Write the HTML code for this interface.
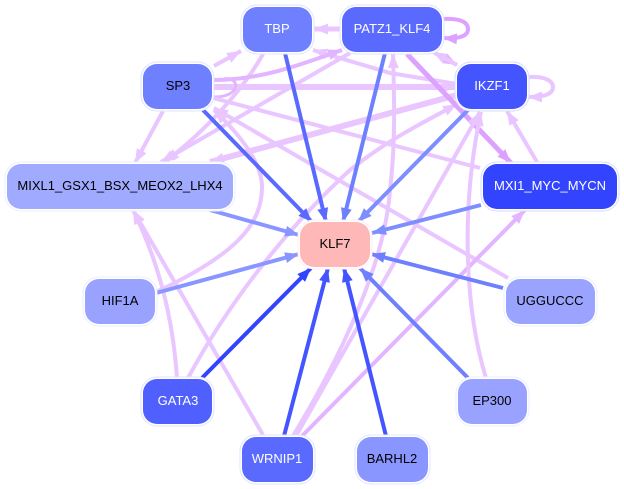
<!DOCTYPE html>
<html>
<head>
<meta charset="utf-8">
<style>
html,body{margin:0;padding:0;background:#fff;}
svg{display:block;}
text{font-family:"Liberation Sans",sans-serif;font-size:13px;text-anchor:middle;}
.l{fill:none;stroke:#e9c6ff;stroke-width:4;}
.m{fill:none;stroke:#e3b4ff;stroke-width:4;}
.d{fill:none;stroke:#dda2ff;stroke-width:4;}
.b{fill:none;stroke-width:4;}
</style>
</head>
<body>
<svg width="624" height="489" viewBox="0 0 624 489" xmlns="http://www.w3.org/2000/svg">
<defs>
<marker id="pl" markerUnits="userSpaceOnUse" markerWidth="15" markerHeight="12" refX="14" refY="5.5" orient="auto"><path d="M0 0L14 5.5L0 11Z" fill="#e9c6ff"/></marker>
<marker id="pm" markerUnits="userSpaceOnUse" markerWidth="15" markerHeight="12" refX="14" refY="5.5" orient="auto"><path d="M0 0L14 5.5L0 11Z" fill="#e3b4ff"/></marker>
<marker id="pd" markerUnits="userSpaceOnUse" markerWidth="15" markerHeight="12" refX="14" refY="5.5" orient="auto"><path d="M0 0L14 5.5L0 11Z" fill="#dda2ff"/></marker>
<marker id="b3" markerUnits="userSpaceOnUse" markerWidth="15" markerHeight="12" refX="14" refY="5.5" orient="auto"><path d="M0 0L14 5.5L0 11Z" fill="#3344ff"/></marker>
<marker id="b4" markerUnits="userSpaceOnUse" markerWidth="15" markerHeight="12" refX="14" refY="5.5" orient="auto"><path d="M0 0L14 5.5L0 11Z" fill="#4455ff"/></marker>
<marker id="b5" markerUnits="userSpaceOnUse" markerWidth="15" markerHeight="12" refX="14" refY="5.5" orient="auto"><path d="M0 0L14 5.5L0 11Z" fill="#5a6aff"/></marker>
<marker id="b6" markerUnits="userSpaceOnUse" markerWidth="15" markerHeight="12" refX="14" refY="5.5" orient="auto"><path d="M0 0L14 5.5L0 11Z" fill="#6f80ff"/></marker>
<marker id="b7" markerUnits="userSpaceOnUse" markerWidth="15" markerHeight="12" refX="14" refY="5.5" orient="auto"><path d="M0 0L14 5.5L0 11Z" fill="#7f8eff"/></marker>
<marker id="b8" markerUnits="userSpaceOnUse" markerWidth="15" markerHeight="12" refX="14" refY="5.5" orient="auto"><path d="M0 0L14 5.5L0 11Z" fill="#8a96ff"/></marker>
</defs>

<!-- pink edges -->
<path class="l" d="M214 66L241 51" marker-end="url(#pl)"/>
<path class="l" d="M342 29L314 29" marker-end="url(#pl)" style="stroke-width:5"/>
<path class="l" d="M163 111L135 163" marker-end="url(#pl)"/>
<path class="l" d="M263 54C240 95 200 135 165 162" marker-end="url(#pl)"/>
<path class="l" d="M350 53L161 162" marker-end="url(#pl)"/>
<path class="l" d="M457 95L210 162" style="stroke-width:6" marker-end="url(#pl)"/>
<path class="l" d="M214 87L457 87" style="stroke-width:6" marker-end="url(#pl)"/>
<path class="l" d="M457 84L390 73L313 50" marker-end="url(#pl)"/>
<path class="m" d="M214 80C260 80 300 65 342 50" marker-end="url(#pm)"/>
<path class="m" d="M224 79C240 76 242 97 214 97" style="stroke-width:3"/>
<path class="l" d="M156 292C235 255 262 225 262 187C262 160 235 130 214 110" marker-end="url(#pl)"/>
<path class="l" d="M480 168L213 98"/>
<path class="l" d="M508 278L214 108" marker-end="url(#pl)"/>
<path class="l" d="M188 378C230 300 290 225 350 170C390 138 425 122 457 104" marker-end="url(#pl)"/>
<path class="m" d="M435 53L457 65" marker-end="url(#pm)"/>
<path class="l" d="M457 65L433 52" marker-end="url(#pl)"/>
<path class="d" d="M407 54L511 163" style="stroke-width:5" marker-end="url(#pd)"/>
<path class="l" d="M537 162L507 111" marker-end="url(#pl)"/>
<path class="l" d="M293 436C345 350 385 260 390 190C396 140 394 90 393 54" marker-end="url(#pl)"/>
<path class="l" d="M296 436C350 340 430 200 480 112" marker-end="url(#pl)"/>
<path class="m" d="M302 436L525 210" marker-end="url(#pm)"/>
<path class="l" d="M263 435L133 210" marker-end="url(#pl)"/>
<path class="l" d="M177 378C173 320 160 265 133 210" marker-end="url(#pl)"/>
<path class="l" d="M486 378C468 320 458 220 481 112" marker-end="url(#pl)"/>
<path class="d" d="M443 19C460 18 468 22 468 29C468 36 460 39 443 38" marker-end="url(#pd)"/>
<path class="l" d="M528 77C545 76 553 81 553 87C553 94 545 97 528 97" marker-end="url(#pl)"/>

<!-- blue edges -->
<path class="b" d="M285 53L326 222" stroke="#5a6aff" marker-end="url(#b5)"/>
<path class="b" d="M385 53L343 222" stroke="#6f80ff" marker-end="url(#b6)"/>
<path class="b" d="M203 110L312 222" stroke="#5a6aff" marker-end="url(#b5)"/>
<path class="b" d="M468 110L358 222" stroke="#7f8eff" marker-end="url(#b7)"/>
<path class="b" d="M481 205L372 233" stroke="#7f8eff" marker-end="url(#b7)"/>
<path class="b" d="M210 210L299 235" stroke="#8a96ff" marker-end="url(#b8)"/>
<path class="b" d="M156 293L299 254" stroke="#8a96ff" marker-end="url(#b8)"/>
<path class="b" d="M503 288L371 254" stroke="#6f80ff" marker-end="url(#b6)"/>
<path class="b" d="M468 378L360 268" stroke="#6f80ff" marker-end="url(#b6)"/>
<path class="b" d="M202 378L311 268" stroke="#3344ff" marker-end="url(#b3)"/>
<path class="b" d="M284 436L328 268" stroke="#4455ff" marker-end="url(#b4)"/>
<path class="b" d="M386 436L344 268" stroke="#4455ff" marker-end="url(#b4)"/>

<!-- nodes -->
<g stroke-width="1" fill="#fff">
<rect x="241" y="5" width="73" height="49" rx="16" stroke="#dfe3ff"/>
<rect x="340" y="5" width="104" height="49" rx="16" stroke="#dfe3ff"/>
<rect x="141" y="62" width="73" height="49" rx="16" stroke="#dfe3ff"/>
<rect x="455" y="62" width="74" height="49" rx="16" stroke="#d8dcff"/>
<rect x="481" y="162" width="138" height="49" rx="16" stroke="#d8dcff"/>
<rect x="5" y="162" width="230" height="49" rx="16" stroke="#eceeff"/>
<rect x="298" y="220" width="74" height="49" rx="16" stroke="#ffeeee"/>
<rect x="83" y="277" width="74" height="49" rx="16" stroke="#eceeff"/>
<rect x="504" y="277" width="93" height="49" rx="16" stroke="#eceeff"/>
<rect x="456" y="377" width="73" height="49" rx="16" stroke="#eceeff"/>
<rect x="141" y="377" width="73" height="49" rx="16" stroke="#dfe3ff"/>
<rect x="240" y="435" width="75" height="49" rx="16" stroke="#dfe3ff"/>
<rect x="355" y="435" width="75" height="49" rx="16" stroke="#e4e7ff"/>
</g>
<rect x="243" y="7" width="69" height="45" rx="14" fill="#6f80ff"/>
<rect x="342" y="7" width="100" height="45" rx="14" fill="#5a6aff"/>
<rect x="143" y="64" width="69" height="45" rx="14" fill="#6f80ff"/>
<rect x="457" y="64" width="70" height="45" rx="14" fill="#4455ff"/>
<rect x="483" y="164" width="134" height="45" rx="14" fill="#3344ff"/>
<rect x="7" y="164" width="226" height="45" rx="14" fill="#a0aaff"/>
<rect x="300" y="222" width="70" height="45" rx="14" fill="#ffb8b8"/>
<rect x="85" y="279" width="70" height="45" rx="14" fill="#99a3ff"/>
<rect x="506" y="279" width="89" height="45" rx="14" fill="#9aa4ff"/>
<rect x="458" y="379" width="69" height="45" rx="14" fill="#99a3ff"/>
<rect x="143" y="379" width="69" height="45" rx="14" fill="#5060ff"/>
<rect x="242" y="437" width="71" height="45" rx="14" fill="#5a6aff"/>
<rect x="357" y="437" width="71" height="45" rx="14" fill="#8a96ff"/>

<text x="277" y="33" fill="#fff">TBP</text>
<text x="392" y="33" fill="#fff">PATZ1_KLF4</text>
<text x="178" y="90" fill="#000">SP3</text>
<text x="492" y="90" fill="#fff">IKZF1</text>
<text x="550" y="190" fill="#fff">MXI1_MYC_MYCN</text>
<text x="120" y="190" fill="#000">MIXL1_GSX1_BSX_MEOX2_LHX4</text>
<text x="335" y="248" fill="#000">KLF7</text>
<text x="120" y="305" fill="#000">HIF1A</text>
<text x="550" y="305" fill="#000">UGGUCCC</text>
<text x="492" y="405" fill="#000">EP300</text>
<text x="178" y="405" fill="#fff">GATA3</text>
<text x="277" y="463" fill="#fff">WRNIP1</text>
<text x="392" y="463" fill="#000">BARHL2</text>
</svg>
</body>
</html>
